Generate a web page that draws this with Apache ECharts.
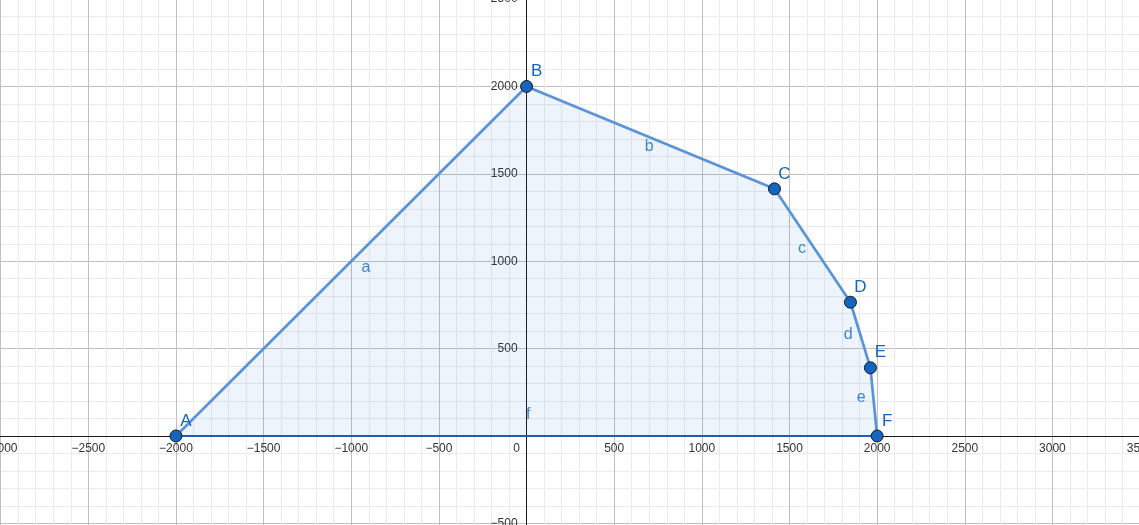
<!DOCTYPE html>
<html><head><meta charset="utf-8">
<script src="https://cdn.jsdelivr.net/npm/echarts@6/dist/echarts.min.js"></script>
<style>html,body{margin:0;padding:0;background:#fff}#c{width:1139px;height:525px}</style>
</head><body><div id="c"></div>
<script>
// polygon vertices
const pointNames = ['A','B','C','D','E','F'];
const pointX = [-2000, 0, 1414.2, 1847.8, 1961.6, 2000];
const pointY = [0, 2000, 1414.2, 765.4, 390.2, 0];
// segment labels (names and positions)
const segNames = ['a','b','c','d','e','f'];
const segX = [-916, 699, 1572, 1835, 1909, 9];
const segY = [963, 1656, 1072, 579, 218, 120];
// axis ranges / ticks
const xMin = -3500, xMax = 3500, yMin = -1000, yMax = 2500, majorStep = 500;

const FONT = 'Liberation Sans, Arial, sans-serif';
const fmt = v => String(v).replace('-', '\u2212');
const chart = echarts.init(document.getElementById('c'), null, {renderer:'canvas'});

const outline = pointNames.map((n,i)=>[pointX[i], pointY[i]]);
const base = [[pointX[0], pointY[0]], [pointX[5], pointY[5]]];

// grid extends past the canvas so that the visible window matches the reference
const G = {left:-87, right:-1.1, top:-0.9, bottom:-85.75};
const W = 1139 - G.left - G.right, H = 525 - G.top - G.bottom;
const zeroX = G.left + (0 - xMin) / (xMax - xMin) * W;
const zeroY = G.top + (yMax - 0) / (yMax - yMin) * H;

chart.setOption({
  animation:false,
  backgroundColor:'#fff',
  grid:Object.assign({containLabel:false, outerBoundsMode:'none'}, G),
  xAxis:{type:'value', min:xMin, max:xMax, interval:majorStep, position:'bottom',
    offset:-(525 - G.bottom - zeroY),
    axisLine:{onZero:false, lineStyle:{color:'#1a1a1a', width:1}},
    axisTick:{show:false},
    minorTick:{show:false, splitNumber:5},
    splitLine:{show:true, lineStyle:{color:'#c0c0c0', width:1}},
    minorSplitLine:{show:true, lineStyle:{color:'#ebebeb', width:1}},
    axisLabel:{color:'#333', fontSize:12, fontFamily:FONT, margin:7,
      showMinLabel:true, showMaxLabel:true, hideOverlap:false,
      formatter:v => v===0 ? '{z|0}' : fmt(v),
      rich:{z:{padding:[0,20,0,0], color:'#333', fontSize:12, fontFamily:FONT}}}
  },
  yAxis:{type:'value', min:yMin, max:yMax, interval:majorStep, position:'left',
    offset:-(zeroX - G.left),
    axisLine:{onZero:false, lineStyle:{color:'#1a1a1a', width:1}},
    axisTick:{show:false},
    minorTick:{show:false, splitNumber:5},
    splitLine:{show:true, lineStyle:{color:'#c0c0c0', width:1}},
    minorSplitLine:{show:true, lineStyle:{color:'#ebebeb', width:1}},
    axisLabel:{color:'#333', fontSize:12, fontFamily:FONT, margin:9,
      showMinLabel:true, showMaxLabel:true, hideOverlap:false,
      formatter:v => v===0 ? '' : fmt(v)}
  },
  series:[
    {type:'line', data:outline, symbol:'none', z:3,
      lineStyle:{color:'#5b93d8', width:2.7},
      areaStyle:{color:'rgba(21,101,192,0.1)'}},
    {type:'line', data:base, symbol:'none', z:4,
      lineStyle:{color:'#1a5fb4', width:2.2}},
    {type:'scatter', data:outline.map((p,i)=>({value:p, name:pointNames[i]})), z:6,
      symbolSize:12,
      itemStyle:{color:'#1565c0', borderColor:'#1a1a1a', borderWidth:1, opacity:1},
      label:{show:true, formatter:p=>p.name, position:'inside', offset:[10,-15],
        color:'#1565c0', fontSize:17, fontFamily:FONT}},
    {type:'scatter', data:segX.map((x,i)=>({value:[x, segY[i]], name:segNames[i]})), z:5,
      symbolSize:1, itemStyle:{color:'rgba(0,0,0,0)'},
      label:{show:true, formatter:p=>p.name, position:'inside',
        color:'#1565c0', fontSize:16, fontFamily:FONT}}
  ]
});
</script></body></html>
